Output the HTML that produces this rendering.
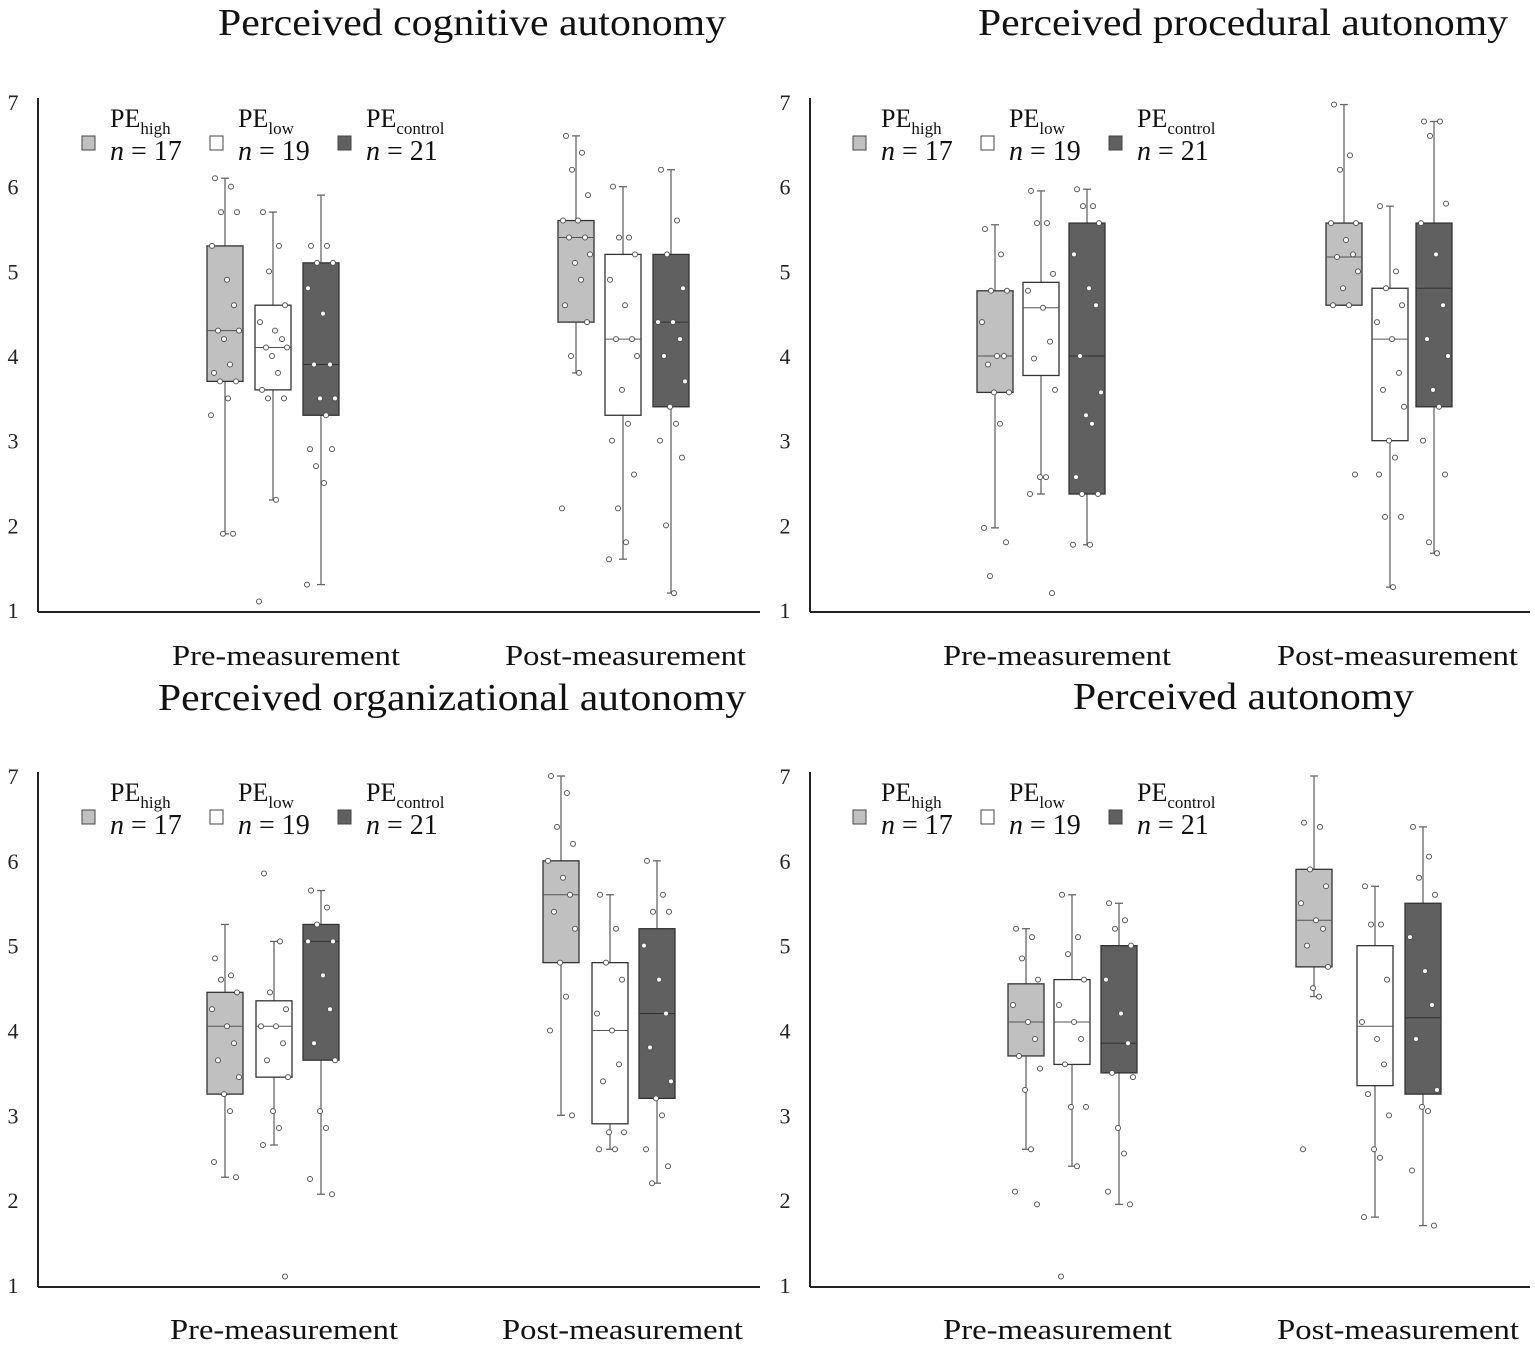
<!DOCTYPE html>
<html><head><meta charset="utf-8"><style>
body{margin:0;background:#fff;}
svg{display:block;font-family:"Liberation Serif",serif;}
</style></head><body>
<svg id="chart" width="1535" height="1349" viewBox="0 0 1535 1349" xmlns="http://www.w3.org/2000/svg"></svg>
<script>
const groups = ["PEhigh","PElow","PEcontrol"];
const phases = ["Pre-measurement","Post-measurement"];
const yTicks = [1,2,3,4,5,6,7];
const titles = ["Perceived cognitive autonomy","Perceived procedural autonomy","Perceived organizational autonomy","Perceived autonomy"];
// [whiskerLow, Q1, median, Q3, whiskerHigh] per panel, per phase, per group
const statsCognitive = [[[1.9,3.7,4.3,5.3,6.1],[2.3,3.6,4.1,4.6,5.7],[1.3,3.3,3.9,5.1,5.9]],[[3.8,4.4,5.4,5.6,6.6],[1.6,3.3,4.2,5.2,6.0],[1.2,3.4,4.4,5.2,6.2]]];
const statsProcedural = [[[1.97,3.57,4.0,4.77,5.55],[2.37,3.77,4.57,4.87,5.95],[1.77,2.37,4.0,5.57,5.97]],[[4.6,4.6,5.17,5.57,6.97],[1.27,3.0,4.2,4.8,5.77],[1.67,3.4,4.8,5.57,6.77]]];
const statsOrganizational = [[[2.27,3.25,4.05,4.45,5.25],[2.65,3.45,4.05,4.35,5.05],[2.07,3.65,5.05,5.25,5.65]],[[3.0,4.8,5.6,6.0,7.0],[2.6,2.9,4.0,4.8,5.6],[2.2,3.2,4.2,5.2,6.0]]];
const statsOverall = [[[2.6,3.7,4.1,4.55,5.2],[2.4,3.6,4.1,4.6,5.6],[1.95,3.5,3.85,5.0,5.5]],[[4.4,4.75,5.3,5.9,7.0],[1.8,3.35,4.05,5.0,5.7],[1.7,3.25,4.15,5.5,6.4]]];
const pointsCognitive = [[[6.1,6.0,5.7,5.7,5.3,4.9,4.6,4.3,4.3,4.2,3.9,3.8,3.7,3.7,3.5,3.3,1.9,1.9],[5.7,5.3,5.0,4.6,4.4,4.3,4.2,4.1,4.1,4.0,3.8,3.6,3.5,3.5,2.3,1.1],[5.3,5.3,5.1,5.1,4.8,4.5,3.9,3.9,3.5,3.5,3.3,2.9,2.9,2.7,2.5,1.3]],[[6.6,6.4,6.2,5.9,5.6,5.6,5.4,5.4,5.2,5.1,4.9,4.6,4.4,4.0,3.8,2.2],[6.0,5.4,5.4,5.2,4.9,4.6,4.2,4.2,4.0,3.6,3.2,3.0,2.6,2.2,1.8,1.6],[6.2,5.6,5.2,4.8,4.4,4.4,4.2,4.0,3.7,3.4,3.2,3.0,2.8,2.0,1.2]]];
const pointsProcedural = [[[5.5,5.2,4.77,4.77,4.4,4.0,4.0,3.9,3.57,3.57,3.2,1.97,1.8,1.4],[5.95,5.57,5.57,4.97,4.77,4.57,4.17,3.97,3.6,2.57,2.57,2.37,1.2],[5.97,5.77,5.77,5.57,5.2,4.8,4.6,4.0,3.57,3.3,3.2,2.57,2.37,2.37,1.77,1.77]],[[6.97,6.37,6.2,5.57,5.57,5.37,5.2,5.17,5.0,4.8,4.6,4.6,2.6],[5.77,5.0,4.8,4.6,4.4,4.2,3.8,3.6,3.4,3.0,2.8,2.6,2.1,2.1,1.27],[6.77,6.77,6.6,5.8,5.57,5.2,4.6,4.2,4.0,3.6,3.4,3.0,2.6,1.8,1.67]]];
const pointsOrganizational = [[[4.85,4.65,4.6,4.45,4.25,4.05,3.85,3.65,3.45,3.25,3.05,2.45,2.27],[5.85,5.05,4.45,4.25,4.05,4.05,3.85,3.65,3.45,3.05,2.85,2.65,1.1],[5.65,5.45,5.25,5.05,5.05,4.65,4.25,3.85,3.65,3.05,2.85,2.25,2.07]],[[7.0,6.8,6.4,6.2,6.0,5.8,5.6,5.4,5.2,4.8,4.4,4.0,3.0],[5.6,5.2,4.8,4.6,4.2,4.0,3.6,3.4,2.8,2.8,2.6,2.6],[6.0,5.6,5.4,5.4,5.0,4.6,4.2,3.8,3.4,3.2,3.0,2.6,2.4,2.2]]];
const pointsOverall = [[[5.2,5.1,4.85,4.6,4.3,4.1,3.9,3.7,3.55,3.3,2.6,2.1,1.95],[5.6,5.1,4.9,4.6,4.3,4.1,3.9,3.6,3.1,3.1,2.4,1.1],[5.5,5.3,5.2,5.0,4.6,4.2,3.85,3.5,3.45,2.85,2.55,2.1,1.95]],[[6.45,6.4,5.9,5.7,5.5,5.3,5.2,5.0,4.75,4.5,4.4,2.6],[5.7,5.25,5.25,4.6,4.1,3.9,3.6,3.25,3.0,2.6,2.5,1.8],[6.4,6.05,5.8,5.6,5.1,4.7,4.3,3.9,3.3,3.1,3.05,2.35,1.7]]];
const legendN = ["17","19","21"];

const svg = document.getElementById('chart');
const NS = "http://www.w3.org/2000/svg";
function mk(tag, attrs, parent){const e=document.createElementNS(NS,tag);for(const k in attrs)e.setAttribute(k,attrs[k]);(parent||svg).appendChild(e);return e;}

const fills=["#c0c0c0","#ffffff","#606060"];
const panels=[
 {ax:38,y7:102,y1:610,xEnd:760,title:[218,726],titleY:35,labY:665,pre:[225,273,321],post:[576,623,671],st:statsCognitive,pt:pointsCognitive,lx:82,ly:100,px:[[172,400],[505,746]]},
 {ax:810,y7:102,y1:610,xEnd:1530,title:[978,1508],titleY:35,labY:665,pre:[995,1041,1087],post:[1344,1390,1434],st:statsProcedural,pt:pointsProcedural,lx:853,ly:100,px:[[943,1171],[1277,1518]]},
 {ax:38,y7:776,y1:1285,xEnd:760,title:[158,746],titleY:710,labY:1339,pre:[225,274,321],post:[561,610,657],st:statsOrganizational,pt:pointsOrganizational,lx:82,ly:774,px:[[170,398],[502,743]]},
 {ax:810,y7:776,y1:1285,xEnd:1530,title:[1073,1414],titleY:709,labY:1339,pre:[1026,1072,1119],post:[1314,1375,1423],st:statsOverall,pt:pointsOverall,lx:853,ly:774,px:[[943,1172],[1277,1519]]}
];
const jit=[-10,6,-4,12,-13,2,9,-7,14,-1,5,-11,11,-5,3,-14,8,-2];

panels.forEach((p,pi)=>{
  const g=mk('g',{});
  
  
  const Y=v=>p.y1-(v-1)*(p.y1-p.y7)/6;
  const t=mk('text',{x:p.title[0],y:p.titleY,'font-size':38,fill:'#111',textLength:p.title[1]-p.title[0],lengthAdjust:'spacingAndGlyphs'},g);t.textContent=titles[pi];
  
  
  const ya=mk('line',{x1:p.ax,y1:p.y7-4,x2:p.ax,y2:p.y1+2,stroke:'#222','stroke-width':2},g);
  
  
  const xa=mk('line',{x1:p.ax,y1:p.y1+2,x2:p.xEnd,y2:p.y1+2,stroke:'#222','stroke-width':2},g);
  
  
  yTicks.forEach(v=>{const tt=mk('text',{x:p.ax-25,y:Y(v)+8,'text-anchor':'middle','font-size':22,fill:'#222'},g);tt.textContent=v;
    
    });
  phases.forEach((ph,i)=>{const tt=mk('text',{x:p.px[i][0],y:p.labY,'font-size':29,fill:'#111',textLength:p.px[i][1]-p.px[i][0],lengthAdjust:'spacingAndGlyphs'},g);tt.textContent=ph;
    
    });
  groups.forEach((gr,i)=>{
    const lx=p.lx+i*128;
    const r=mk('rect',{x:lx,y:p.ly+36,width:13,height:14,fill:fills[i],stroke:'#444','stroke-width':1},g);
    
    
    const tx=mk('text',{x:lx+28,y:p.ly+27,'font-size':26,fill:'#111'},g);
    tx.innerHTML='PE<tspan font-size="17" dy="7">'+gr.slice(2)+'</tspan>';
    
    
    const tn=mk('text',{x:lx+28,y:p.ly+60,'font-size':28,fill:'#111'},g);
    tn.innerHTML='<tspan font-style="italic">n</tspan> = '+legendN[i];
    
    
  });
  [p.pre,p.post].forEach((cx,phi)=>{
    cx.forEach((c,gi)=>{
      const s=p.st[phi][gi];const w=36;
      const bg=mk('g',{},g);
      
      
      mk('line',{x1:c,y1:Y(s[4]),x2:c,y2:Y(s[0]),stroke:'#666','stroke-width':1.3},bg);
      mk('line',{x1:c-4,y1:Y(s[4]),x2:c+4,y2:Y(s[4]),stroke:'#666','stroke-width':1.3},bg);
      mk('line',{x1:c-4,y1:Y(s[0]),x2:c+4,y2:Y(s[0]),stroke:'#666','stroke-width':1.3},bg);
      mk('rect',{x:c-w/2,y:Y(s[3]),width:w,height:Y(s[1])-Y(s[3]),fill:fills[gi],stroke:'#333','stroke-width':1.3},bg);
      mk('line',{x1:c-w/2,y1:Y(s[2]),x2:c+w/2,y2:Y(s[2]),stroke:gi===2?'#333':'#555','stroke-width':1},bg);
      p.pt[phi][gi].forEach((v,k)=>{
        const pc=mk('circle',{cx:c+jit[k%jit.length],cy:Y(v),r:2.5,fill:'#fff',stroke:'#555','stroke-width':1},bg);
        
        
      });
    });
  });
});
</script>
</body></html>
